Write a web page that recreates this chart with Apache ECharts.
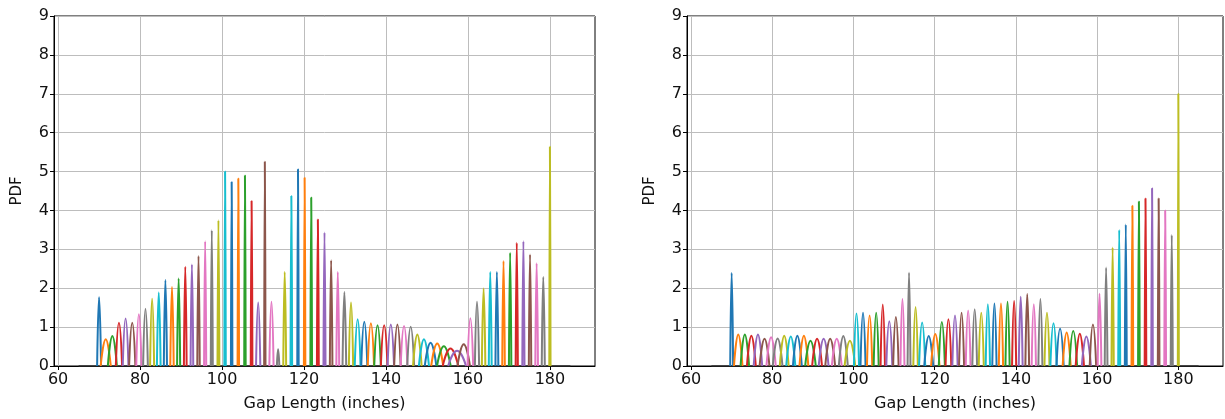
<!DOCTYPE html>
<html><head><meta charset="utf-8">
<script src="https://cdn.jsdelivr.net/npm/echarts@6/dist/echarts.min.js"></script>
<style>html,body{margin:0;padding:0;background:#fff}#c{width:1225px;height:419px}</style>
</head><body><div id="c"></div>
<script>
// Gap length at which each density peak is centred (inches)
const gapCenters = [70.00,71.62,73.24,74.85,76.47,78.09,79.71,81.32,82.94,84.56,
  86.18,87.79,89.41,91.03,92.65,94.26,95.88,97.50,99.12,100.74,
  102.35,103.97,105.59,107.21,108.82,110.44,112.06,113.68,115.29,116.91,
  118.53,120.15,121.76,123.38,125.00,126.62,128.24,129.85,131.47,133.09,
  134.71,136.32,137.94,139.56,141.18,142.79,144.41,146.03,147.65,149.26,
  150.88,152.50,154.12,155.74,157.35,158.97,160.59,162.21,163.82,165.44,
  167.06,168.68,170.29,171.91,173.53,175.15,176.76,178.38,180.00];

// Peak PDF values, left panel
const leftPeakPDF = [1.77,0.69,0.77,1.11,1.22,1.11,1.33,1.47,1.73,1.89,
  2.21,2.03,2.25,2.55,2.61,2.83,3.21,3.49,3.75,5.00,
  4.73,4.82,4.90,4.24,1.63,5.25,1.65,0.43,2.42,4.37,
  5.06,4.84,4.33,3.77,3.43,2.72,2.42,1.90,1.63,1.20,
  1.14,1.10,1.05,1.05,1.07,1.07,1.03,1.01,0.81,0.69,
  0.60,0.58,0.51,0.45,0.39,0.56,1.23,1.65,1.99,2.42,
  2.42,2.70,2.91,3.17,3.21,2.87,2.64,2.29,5.64];

// Peak PDF values, right panel
const rightPeakPDF = [2.39,0.81,0.81,0.78,0.81,0.70,0.74,0.71,0.78,0.76,
  0.78,0.78,0.65,0.70,0.70,0.70,0.70,0.77,0.65,1.35,
  1.37,1.30,1.37,1.58,1.15,1.26,1.72,2.40,1.52,1.12,
  0.77,0.82,1.13,1.20,1.30,1.37,1.43,1.46,1.37,1.59,
  1.61,1.61,1.65,1.67,1.78,1.85,1.59,1.72,1.37,1.10,
  0.96,0.86,0.90,0.83,0.76,1.07,1.86,2.53,3.05,3.50,
  3.64,4.12,4.23,4.31,4.57,4.31,4.00,3.37,7.00];

// peaks that appear as narrow spikes despite a low height (index list)
const leftSpikePeaks = [27];
const rightSpikePeaks = [];

const xTickValues = [60, 80, 100, 120, 140, 160, 180];
const kdeRange = [65, 185];

const palette = ['#1f77b4','#ff7f0e','#2ca02c','#d62728','#9467bd',
                 '#8c564b','#e377c2','#7f7f7f','#bcbd22','#17becf'];
const FONT = 'DejaVu Sans';

function panelSeries(heights, spikes, idx) {
  const out = [{
    type: 'line', xAxisIndex: idx, yAxisIndex: idx,
    data: [[kdeRange[0], 0], [kdeRange[1], 0]],
    showSymbol: false, silent: true, z: 1,
    lineStyle: { color: '#333', width: 1.5 }
  }];
  heights.forEach((h, i) => {
    const c = gapCenters[i];
    const hw = spikes.indexOf(i) >= 0 ? 0.3 : 0.85 / h;
    out.push({
      type: 'line', xAxisIndex: idx, yAxisIndex: idx,
      data: [[c - hw, 0], [c, h], [c + hw, 0]],
      showSymbol: false, silent: true, smooth: 0.5, z: 2,
      lineStyle: { color: palette[i % 10], width: 2 }
    });
  });
  return out;
}

function xAxisCfg(idx) {
  return {
    type: 'value', gridIndex: idx, min: 59, max: 191,
    name: 'Gap Length (inches)', nameLocation: 'middle', nameGap: 30,
    nameTextStyle: { fontFamily: FONT, fontSize: 16, color: '#111' },
    axisLine: { show: true, onZero: false, lineStyle: { color: '#000', width: 1 } },
    axisTick: { show: true, length: 4, customValues: xTickValues, lineStyle: { color: '#000' } },
    axisLabel: { customValues: xTickValues, fontFamily: FONT, fontSize: 16, color: '#111', margin: 6 },
    splitLine: { show: true, lineStyle: { color: '#bdbdbd', width: 1 } }
  };
}
function yAxisCfg(idx) {
  return {
    type: 'value', gridIndex: idx, min: 0, max: 9, interval: 1,
    name: 'PDF', nameLocation: 'middle', nameGap: 29,
    nameTextStyle: { fontFamily: FONT, fontSize: 15, color: '#111' },
    axisLine: { show: true, lineStyle: { color: '#000', width: 1 } },
    axisTick: { show: true, length: 4, lineStyle: { color: '#000' } },
    axisLabel: { fontFamily: FONT, fontSize: 16, color: '#111', margin: 5 },
    splitLine: { show: true, lineStyle: { color: '#bdbdbd', width: 1 } }
  };
}

const chart = echarts.init(document.getElementById('c'), null, { renderer: 'canvas' });
chart.setOption({
  animation: false,
  backgroundColor: '#fff',
  grid: [
    { left: 54, top: 16, width: 541, height: 350, show: true, borderColor: '#000', borderWidth: 1 },
    { left: 687, top: 16, width: 536, height: 350, show: true, borderColor: '#000', borderWidth: 1 }
  ],
  xAxis: [xAxisCfg(0), xAxisCfg(1)],
  yAxis: [yAxisCfg(0), yAxisCfg(1)],
  series: panelSeries(leftPeakPDF, leftSpikePeaks, 0).concat(panelSeries(rightPeakPDF, rightSpikePeaks, 1))
});
</script></body></html>
